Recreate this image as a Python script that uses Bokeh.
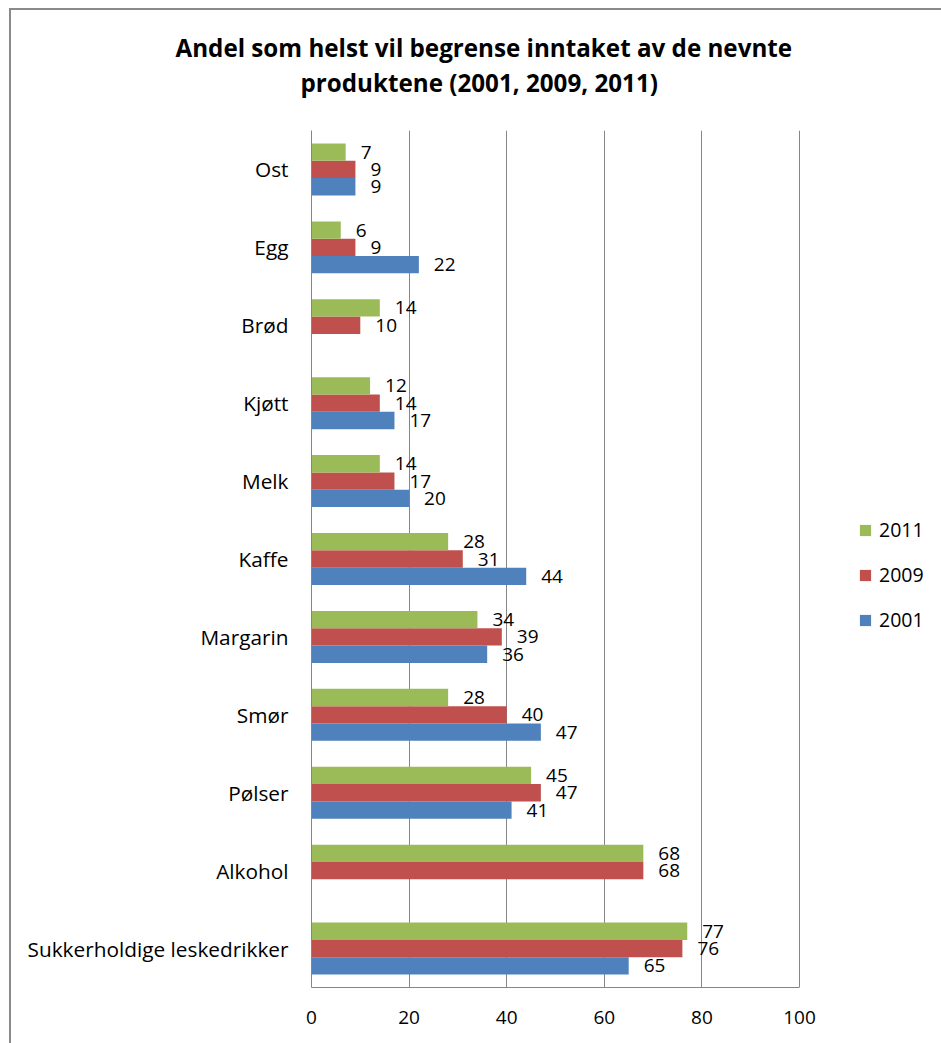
from bokeh.plotting import figure
from bokeh.models import (Range1d, FixedTicker, ColumnDataSource, Legend, LegendItem, Title)
from bokeh.transform import dodge
from bokeh.core.properties import value
from bokeh.embed import file_html
from bokeh.resources import INLINE

# Share of respondents who would rather limit their intake (per cent)
categories = ["Sukkerholdige leskedrikker", "Alkohol", "Pølser", "Smør", "Margarin",
              "Kaffe", "Melk", "Kjøtt", "Brød", "Egg", "Ost"]
v2001 = [65, None, 41, 47, 36, 44, 20, 17, None, 22, 9]
v2009 = [76, 68, 47, 40, 39, 31, 17, 14, 10, 9, 9]
v2011 = [77, 68, 45, 28, 34, 28, 14, 12, 14, 6, 7]
x_ticks = [0, 20, 40, 60, 80, 100]

title_lines = ["Andel som helst vil begrense inntaket av de nevnte",
               "produktene (2001, 2009, 2011)"]

FONT = "Open Sans"
GREY = "#868686"
BORDER = "#8a8a8a"
COLORS = {"2001": "#4F81BD", "2009": "#C0504D", "2011": "#9BBB59"}

W, H = 941, 1043
FL, FT, FB = 311, 130, 987       # frame left / top / bottom in pixels
X100 = 799                       # pixel column of the value 100
N = len(categories)
BAR = 1 / 4.5                    # three bars + 150 % gap per category

# the frame runs to the right edge so the legend can sit beside the bars;
# the value scale keeps 0..100 between FL and X100
x_end = 100 * (W - FL) / (X100 - FL)

p = figure(width=W, height=H, output_backend="svg", toolbar_location=None,
           x_range=Range1d(0, x_end), y_range=Range1d(-0.5, N - 0.5),
           min_border_left=FL, min_border_right=0,
           min_border_top=FT, min_border_bottom=H - FB)
p.outline_line_color = None
p.background_fill_color = "white"
p.border_fill_color = None
# thin frame around the whole chart area (left and top edges visible)
p.styles = {
    "background-color": "white",
    "background-image": f"linear-gradient({BORDER},{BORDER}), linear-gradient({BORDER},{BORDER})",
    "background-size": "2px 100%, 100% 2px",
    "background-position": "9px 8px, 9px 8px",
    "background-repeat": "no-repeat",
}

renderers = {}
for year, vals, off in (("2001", v2001, -BAR), ("2009", v2009, 0.0), ("2011", v2011, BAR)):
    pos = [i for i, v in enumerate(vals) if v is not None]
    src = ColumnDataSource(dict(pos=pos, val=[vals[i] for i in pos],
                                lab=[str(vals[i]) for i in pos]))
    r = p.hbar(y=dodge("pos", off, range=p.y_range), left=0, right="val", height=BAR,
               source=src, fill_color=COLORS[year], line_color=None)
    p.text(x="val", y=dodge("pos", off, range=p.y_range), text="lab", source=src,
           x_offset=15, text_align="left", text_baseline="middle",
           text_font=value(FONT), text_font_size="19px", text_color="black")
    renderers[year] = r

# value axis
p.xaxis.ticker = FixedTicker(ticks=x_ticks)
p.xaxis.bounds = (0, 100)
p.xaxis.axis_line_color = GREY
p.xaxis.major_tick_out = 0
p.xaxis.major_tick_in = 0
p.xaxis.minor_tick_line_color = None
p.xaxis.major_label_standoff = 23
p.xaxis.major_label_text_font = FONT
p.xaxis.major_label_text_font_size = "19px"
p.xaxis.major_label_text_color = "black"

# category axis
p.yaxis.ticker = FixedTicker(ticks=list(range(N)))
p.yaxis.major_label_overrides = {i: c for i, c in enumerate(categories)}
p.yaxis.axis_line_color = GREY
p.yaxis.major_tick_out = 0
p.yaxis.major_tick_in = 0
p.yaxis.minor_tick_line_color = None
p.yaxis.major_label_standoff = 23
p.yaxis.major_label_text_font = FONT
p.yaxis.major_label_text_font_size = "20.8px"
p.yaxis.major_label_text_color = "black"

p.xgrid.ticker = FixedTicker(ticks=x_ticks[1:])
p.xgrid.grid_line_color = GREY
p.ygrid.grid_line_color = None

# legend to the right of the bars
legend = Legend(items=[LegendItem(label=y, renderers=[renderers[y]]) for y in ("2011", "2009", "2001")],
                location=(858 - FL, FB - 633), orientation="vertical",
                glyph_width=14, glyph_height=14, label_standoff=7, spacing=18,
                padding=0, margin=0, border_line_color=None, background_fill_alpha=0,
                label_text_font=FONT, label_text_font_size="19.5px", label_text_color="black")
p.add_layout(legend)

# blank band between the plot area and the title
p.add_layout(Title(text=" ", text_font_size="1px", standoff=29), "above")

# two-line title, second line nearest the plot
TITLE_PX = 24.2
p.add_layout(Title(text=title_lines[1], align="left", offset=300 - FL, standoff=0,
                   text_font=FONT, text_font_size=f"{TITLE_PX}px", text_font_style="bold",
                   text_color="black"), "above")
p.add_layout(Title(text=title_lines[0], align="left", offset=175 - FL, standoff=0,
                   text_font=FONT, text_font_size=f"{TITLE_PX}px", text_font_style="bold",
                   text_color="black"), "above")

open("out.html", "w").write(file_html(p, INLINE))
